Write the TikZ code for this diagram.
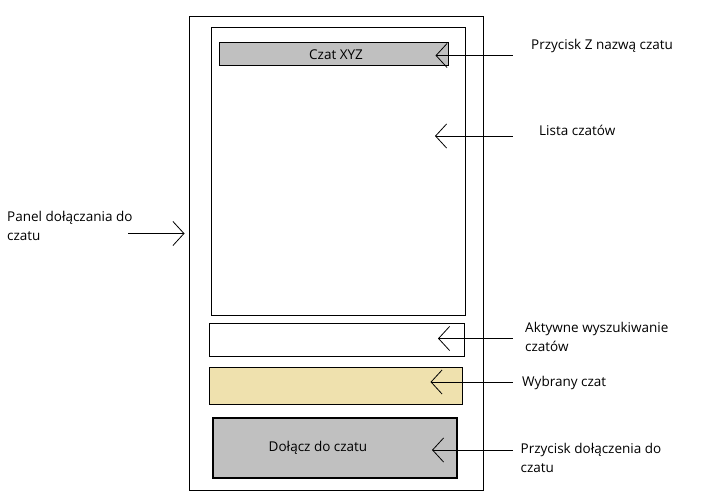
\documentclass[tikz,border=0pt]{standalone}
\usepackage{fontspec}
\setmainfont{Open Sans}
\usetikzlibrary{arrows.meta}

\definecolor{btngray}{HTML}{C0C0C0}
\definecolor{pickfill}{HTML}{EFE1AE}

\tikzset{
  box/.style={draw,line width=1pt,anchor=north west,inner sep=0pt},
  pointer/.style={line width=1pt,-{Straight Barb[length=11pt,width=24pt,line width=0.8pt]}},
  lbl/.style={anchor=west,inner sep=0pt,align=left}
}

\begin{document}
\begin{tikzpicture}[x=1pt,y=-1pt,font=\fontsize{13.5}{19}\selectfont]
\useasboundingbox (0,0) rectangle (701,503);

% window
\node[box,minimum width=294pt,minimum height=474pt] (frame) at (189,16) {};
\node[box,minimum width=254pt,minimum height=288pt] (list) at (210.5,27) {};
\node[box,fill=btngray,minimum width=229pt,minimum height=23pt] (chatbtn) at (218.5,42.5) {};
\node (chatname) at (336,54.5) {Czat XYZ};
\node[box,minimum width=255pt,minimum height=33pt] (search) at (208.5,322.5) {};
\node[box,fill=pickfill,minimum width=253pt,minimum height=37pt] (picked) at (208.5,366.5) {};
\node[box,fill=btngray,line width=2pt,minimum width=244pt,minimum height=60pt] (joinbtn) at (211.5,417) {};
\node (jointext) at (318,448) {Dołącz do czatu};

% labels
\node[lbl] (lpanel) at (7,226) {Panel dołączania do\\czatu};
\node[lbl] (lbtn) at (531,45.5) {Przycisk Z nazwą czatu};
\node[lbl] (llist) at (539,130) {Lista czatów};
\node[lbl] (lsearch) at (525,336.5) {Aktywne wyszukiwanie\\czatów};
\node[lbl] (lpicked) at (522,382.5) {Wybrany czat};
\node[lbl] (ljoin) at (520.5,458) {Przycisk dołączenia do\\czatu};

% arrow ends
\coordinate (t1) at (128,233.5);   \coordinate (h1) at (184.5,233.5);
\coordinate (t2) at (512.5,55.5);  \coordinate (h2) at (435.5,55.5);
\coordinate (t3) at (512.5,136);   \coordinate (h3) at (435,136);
\coordinate (t4) at (512.5,338.5); \coordinate (h4) at (438,338.5);
\coordinate (t5) at (512.5,382);   \coordinate (h5) at (430.5,382);
\coordinate (t6) at (512.5,450);   \coordinate (h6) at (432,450);

\foreach \i in {1,...,6}
  \draw[pointer] (t\i) -- (h\i);

\end{tikzpicture}
\end{document}
